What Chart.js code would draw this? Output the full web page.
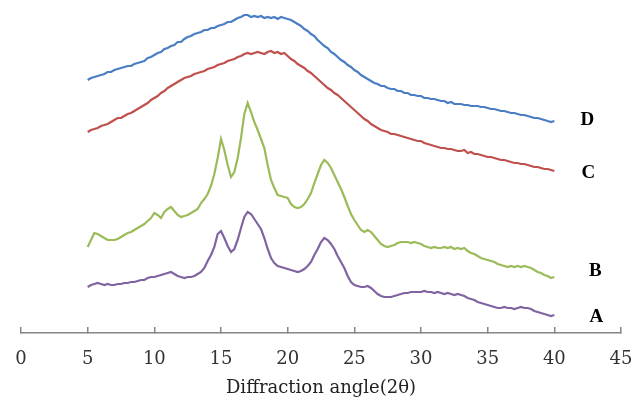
<!DOCTYPE html>
<html>
<head>
<meta charset="utf-8">
<script src="https://cdn.jsdelivr.net/npm/chart.js@4/dist/chart.umd.min.js"></script>
<style>
  html, body { margin: 0; padding: 0; background: #fff; }
  #wrap { width: 642px; height: 402px; position: relative; }
</style>
</head>
<body>
<div id="wrap"><canvas id="xrd"></canvas></div>
<script>
// 2θ grid of the scans (degrees)
const ANGLE_START = 5;
const ANGLE_STEP = 0.25;

// intensities (a.u.), one row per degree: x.00, x.25, x.50, x.75
const SERIES_A = [
  46,48,49,50,  49,48,49,48,  48,49,49,50,  50,51,51,52,  53,53,55,56,
  56,57,58,59,  60,61,59,57,  56,55,56,56,  57,59,61,65,  72,78,86,99,
  102,95,87,81, 84,93,105,116, 121,119,114,109, 104,95,84,75, 70,67,66,65,
  64,63,62,61,  62,64,67,71,  78,84,91,95,  93,89,84,77,  71,65,57,51,
  48,47,46,46,  47,45,42,39,  37,36,36,36,  37,38,39,40,  40,41,41,41,
  41,42,41,41,  40,41,40,39,  40,39,38,39,  38,37,35,34,  33,31,30,29,
  28,27,26,25,  25,26,25,25,  24,25,26,25,  25,24,22,21,  20,19,18,17,
  18
];
const SERIES_B = [
  86,93,100,99,  97,95,93,93,  93,94,96,98,  100,101,103,105,  107,109,112,115,
  120,118,115,121,  124,126,122,118,  116,117,118,120,  122,124,130,134,  139,147,159,175,
  194,183,168,156,  161,175,195,219,  230,221,211,203,  194,185,168,153,  145,138,137,136,
  135,129,126,125,  126,129,134,140,  150,159,168,173,  170,165,158,151,  144,136,127,119,
  113,108,103,101,  103,101,97,93,  89,87,86,87,  88,90,91,91,  91,90,91,90,
  89,87,86,85,  86,85,85,86,  85,86,84,85,  84,85,82,80,  79,77,75,74,
  73,72,71,69,  68,67,66,67,  66,67,66,67,  66,65,63,61,  60,58,57,55,
  56
];
const SERIES_C = [
  201,203,204,205,  207,208,209,211,  213,215,215,217,  219,220,222,224,  226,228,230,233,
  235,237,240,242,  245,247,249,251,  253,255,256,257,  259,260,261,262,  264,265,266,268,
  269,270,272,273,  274,276,277,279,  280,279,280,281,  280,279,281,282,  280,281,279,280,
  277,274,272,269,  267,265,262,260,  257,254,251,248,  245,243,240,238,  235,232,229,226,
  223,220,217,214,  212,209,207,205,  203,202,201,199,  199,198,197,196,  195,194,193,192,
  192,190,189,188,  187,186,185,185,  184,184,183,182,  182,183,180,181,  179,179,178,177,
  176,176,175,174,  173,173,172,171,  170,170,169,169,  168,167,166,166,  165,164,164,163,
  162
];
const SERIES_D = [
  253,255,256,257,  258,259,261,261,  263,264,265,266,  267,267,269,270,  271,272,275,276,
  278,280,281,284,  285,287,288,291,  291,294,296,297,  299,300,301,303,  303,305,305,307,
  308,309,311,311,  313,315,316,318,  318,316,317,316,  317,315,316,315,  316,314,316,315,
  314,313,311,309,  307,304,302,299,  297,293,290,287,  285,281,279,276,  273,271,268,266,
  263,261,258,256,  254,252,250,249,  247,247,245,244,  244,242,242,240,  240,238,238,237,
  237,235,235,234,  234,233,232,232,  230,231,229,229,  229,228,228,227,  227,227,226,226,
  225,224,224,223,  222,222,221,220,  220,219,218,218,  217,216,215,215,  214,213,212,211,
  212
];

const SERIES_NAMES = ['A', 'B', 'C', 'D'];
const SERIES_COLORS = ['#8064a2', '#9bbb59', '#c0504d', '#4a7ec4'];
// label offset from each curve's last point, in px
const LABEL_OFFSETS = [[42, 2], [41, -6], [34, 2], [33, -1]];

const angles = SERIES_A.map((_, i) => ANGLE_START + i * ANGLE_STEP);

function toPoints(values) {
  return values.map((v, i) => ({ x: angles[i], y: v }));
}

const endLabels = {
  id: 'endLabels',
  afterDatasetsDraw(chart) {
    const ctx = chart.ctx;
    ctx.save();
    ctx.font = 'bold 19px "Liberation Serif", "Times New Roman", serif';
    ctx.fillStyle = '#000';
    ctx.textAlign = 'center';
    ctx.textBaseline = 'middle';
    chart.data.datasets.forEach((ds, i) => {
      const pts = chart.getDatasetMeta(i).data;
      const last = pts[pts.length - 1];
      const [dx, dy] = LABEL_OFFSETS[i];
      ctx.fillText(ds.label, last.x + dx, last.y + dy);
    });
    ctx.restore();
  }
};

const seriesValues = [SERIES_A, SERIES_B, SERIES_C, SERIES_D];

new Chart(document.getElementById('xrd'), {
  type: 'line',
  data: {
    datasets: seriesValues.map((vals, i) => ({
      label: SERIES_NAMES[i],
      data: toPoints(vals),
      borderColor: SERIES_COLORS[i],
      borderWidth: 2.2,
      pointRadius: 0,
      tension: 0,
      fill: false
    }))
  },
  options: {
    responsive: true,
    maintainAspectRatio: false,
    animation: false,
    layout: { padding: { left: 21, right: 21, top: 0, bottom: 0 } },
    plugins: {
      legend: { display: false },
      tooltip: { enabled: false }
    },
    scales: {
      x: {
        type: 'linear',
        min: 0,
        max: 45,
        // fixed band under the plot, side padding left to layout
        afterFit(scale) {
          scale.height = 69;
          scale.paddingLeft = 0;
          scale.paddingRight = 0;
        },
        grid: {
          drawOnChartArea: false,
          drawTicks: true,
          tickLength: -6,
          color: '#868686',
          lineWidth: 1.5
        },
        border: { display: true, color: '#868686', width: 1.5 },
        ticks: {
          stepSize: 5,
          padding: 22,
          color: '#333',
          font: { family: '"DejaVu Serif", serif', size: 18 }
        },
        title: {
          display: true,
          text: 'Diffraction angle(2θ)',
          color: '#222',
          font: { family: '"DejaVu Serif", serif', size: 18 },
          padding: { top: 4, bottom: 3 }
        }
      },
      y: {
        display: false,
        min: 0,
        max: 333
      }
    }
  },
  plugins: [endLabels]
});
</script>
</body>
</html>
